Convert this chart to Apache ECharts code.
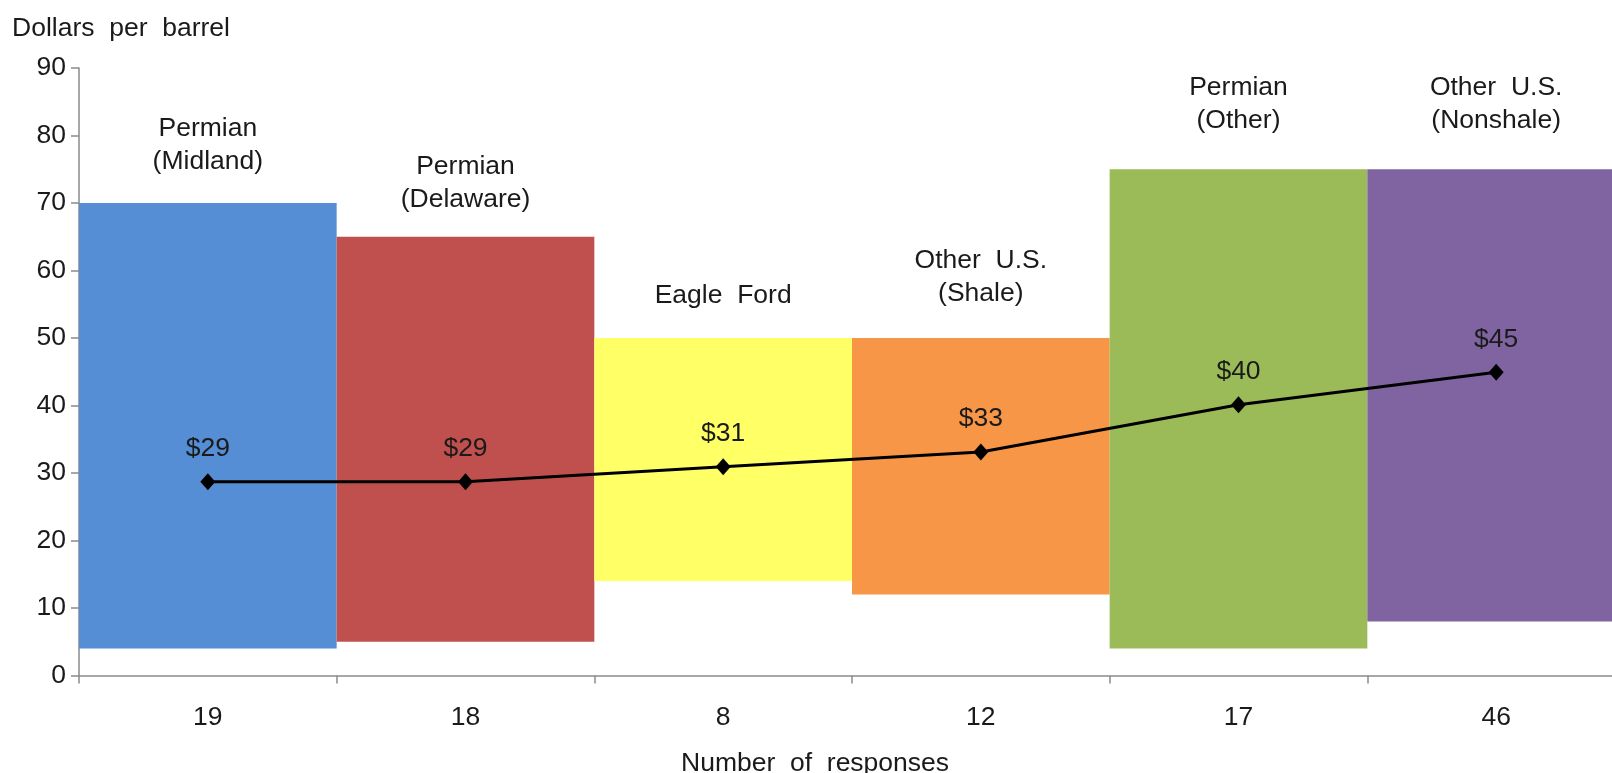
<!DOCTYPE html>
<html>
<head>
<meta charset="utf-8">
<script src="https://cdn.jsdelivr.net/npm/echarts@6/dist/echarts.min.js"></script>
<style>
  html, body { margin: 0; padding: 0; background: #fff; overflow: hidden; }
  #main { width: 1640px; height: 773px; }
</style>
</head>
<body>
<div id="main"></div>
<script>
// Breakeven oil price ranges by region
const regions = ['Permian\n(Midland)', 'Permian\n(Delaware)', 'Eagle  Ford', 'Other  U.S.\n(Shale)', 'Permian\n(Other)', 'Other  U.S.\n(Nonshale)'];
const responses = ['19', '18', '8', '12', '17', '46'];
const lowPrice = [4, 5, 14, 12, 4, 8];
const highPrice = [70, 65, 50, 50, 75, 75];
const averagePrice = [28.7, 28.7, 30.9, 33.1, 40.1, 44.9];
const yTicks = [0, 10, 20, 30, 40, 50, 60, 70, 80, 90];

const barColors = ['#558ED5', '#C0504D', '#FFFF66', '#F79646', '#9BBB59', '#8064A2'];
const regionLabelGap = [25, 20, 26, 28, 32, 32];

const FONT = 'Liberation Sans';
const FONT_SIZE = 26.5;
const TEXT = '#1a1a1a';
const AXIS = '#8a8a8a';

const chart = echarts.init(document.getElementById('main'), null, { renderer: 'canvas' });

const rangeData = highPrice.map((h, i) => ({
  value: h - lowPrice[i],
  itemStyle: { color: barColors[i] },
  label: { distance: regionLabelGap[i] }
}));

chart.setOption({
  animation: false,
  textStyle: { fontFamily: FONT },
  title: [
    { text: 'Dollars  per  barrel', left: 7, top: 10,
      textStyle: { fontFamily: FONT, fontSize: FONT_SIZE, fontWeight: 'normal', color: TEXT } },
    { text: 'Number  of  responses', left: 676, top: 745,
      textStyle: { fontFamily: FONT, fontSize: FONT_SIZE, fontWeight: 'normal', color: TEXT } }
  ],
  grid: { left: 79, right: 15, top: 67.9, bottom: 97.6 },
  xAxis: {
    type: 'category',
    data: responses,
    boundaryGap: true,
    axisLine: { lineStyle: { color: AXIS, width: 1.5 } },
    axisTick: { show: true, length: 8, lineStyle: { color: AXIS, width: 1.5 } },
    axisLabel: { margin: 29, fontSize: FONT_SIZE, color: TEXT, fontFamily: FONT },
    splitLine: { show: false }
  },
  yAxis: {
    type: 'value',
    min: yTicks[0],
    max: yTicks[yTicks.length - 1],
    interval: yTicks[1] - yTicks[0],
    axisLine: { show: true, lineStyle: { color: AXIS, width: 1.5 } },
    axisTick: { show: true, length: 8, lineStyle: { color: AXIS, width: 1.5 } },
    axisLabel: { margin: 13, fontSize: FONT_SIZE, color: TEXT, fontFamily: FONT },
    splitLine: { show: false }
  },
  series: [
    {
      name: 'low',
      type: 'bar',
      stack: 'range',
      data: lowPrice,
      barWidth: '100%',
      barCategoryGap: 0,
      itemStyle: { color: 'rgba(0,0,0,0)' },
      silent: true
    },
    {
      name: 'range',
      type: 'bar',
      stack: 'range',
      data: rangeData,
      barWidth: '100%',
      barCategoryGap: 0,
      label: {
        show: true,
        position: 'top',
        formatter: (p) => regions[p.dataIndex],
        fontFamily: FONT,
        fontSize: FONT_SIZE,
        lineHeight: 33,
        color: TEXT,
        align: 'center'
      }
    },
    {
      name: 'average',
      type: 'line',
      data: averagePrice,
      z: 5,
      symbol: 'diamond',
      symbolSize: [15, 17],
      itemStyle: { color: '#000' },
      lineStyle: { color: '#000', width: 3 },
      label: {
        show: true,
        position: 'top',
        distance: 11,
        formatter: (p) => '$' + Math.round(p.value),
        fontFamily: FONT,
        fontSize: FONT_SIZE,
        color: TEXT
      }
    }
  ]
});
</script>
</body>
</html>
